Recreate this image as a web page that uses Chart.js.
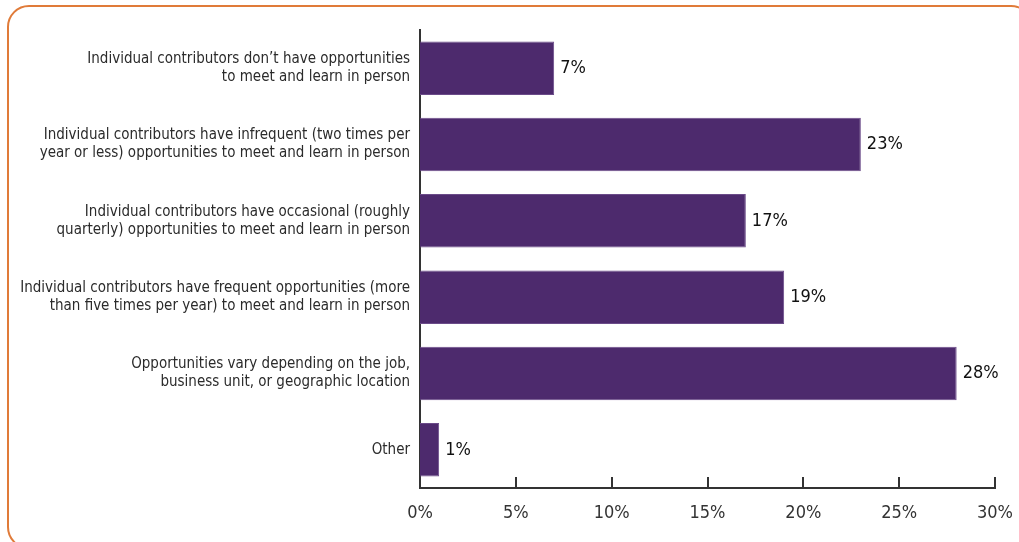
<!DOCTYPE html>
<html>
<head>
<meta charset="utf-8">
<script src="https://cdn.jsdelivr.net/npm/chart.js@4"></script>
<style>
  html, body { margin: 0; padding: 0; background: #fff; overflow: hidden; }
  #wrap { position: relative; width: 1019px; height: 542px; overflow: hidden; }
  #frame {
    position: absolute; left: 7px; top: 5px; width: 1026px; height: 544px;
    border: 2px solid #E07B39; border-radius: 22px; box-sizing: border-box;
  }
  canvas { position: absolute; left: 0; top: 0; }
</style>
</head>
<body>
<div id="wrap">
  <div id="frame"></div>
  <canvas id="grafico" width="1019" height="542"></canvas>
</div>
<script>
// Categorías (una línea por renglón de la etiqueta)
const categorias = [
    ["Individual contributors don\u2019t have opportunities", "to meet and learn in person"],
    ["Individual contributors have infrequent (two times per", "year or less) opportunities to meet and learn in person"],
    ["Individual contributors have occasional (roughly", "quarterly) opportunities to meet and learn in person"],
    ["Individual contributors have frequent opportunities (more", "than five times per year) to meet and learn in person"],
    ["Opportunities vary depending on the job,", "business unit, or geographic location"],
    ["Other"]
];
const porcentajes = [7, 23, 17, 19, 28, 1];
const ticksEjeX = [0, 5, 10, 15, 20, 25, 30];

const fuente = '"Liberation Sans Narrow", "DejaVu Sans Condensed", "Roboto", sans-serif';

// Marcas del eje X hacia dentro del área del gráfico
const marcasEje = {
    id: 'marcasEje',
    afterDraw(chart) {
        const x = chart.scales.x, area = chart.chartArea, ctx = chart.ctx;
        ctx.save();
        ctx.strokeStyle = '#333';
        ctx.lineWidth = 2;
        ticksEjeX.forEach(v => {
            if (v === 0) return;
            const px = Math.round(x.getPixelForValue(v));
            ctx.beginPath();
            ctx.moveTo(px, area.bottom);
            ctx.lineTo(px, area.bottom - 11);
            ctx.stroke();
        });
        ctx.restore();
    }
};

// Etiquetas con el valor al final de cada barra
const etiquetasValor = {
    id: 'etiquetasValor',
    afterDatasetsDraw(chart) {
        const ctx = chart.ctx;
        const meta = chart.getDatasetMeta(0);
        ctx.save();
        ctx.font = '18px ' + fuente;
        ctx.fillStyle = '#111';
        ctx.textAlign = 'left';
        ctx.textBaseline = 'middle';
        meta.data.forEach((bar, i) => {
            ctx.fillText(porcentajes[i] + '%', bar.x + 6, bar.y);
        });
        ctx.restore();
    }
};

new Chart(document.getElementById('grafico'), {
    type: 'bar',
    data: {
        labels: categorias,
        datasets: [{
            data: porcentajes,
            backgroundColor: '#4D2A6D',
            borderColor: '#6B4B89',
            borderWidth: 1,
            barPercentage: 0.7,
            categoryPercentage: 1
        }]
    },
    options: {
        indexAxis: 'y',
        responsive: false,
        animation: false,
        layout: { padding: { top: 30, right: 24, left: 0, bottom: 0 } },
        plugins: {
            legend: { display: false },
            tooltip: { enabled: false }
        },
        scales: {
            x: {
                min: 0,
                max: 30,
                afterBuildTicks: scale => { scale.ticks = ticksEjeX.map(v => ({ value: v })); },
                afterFit: scale => {
                    scale.height = 54;
                    scale.paddingLeft = 0;
                    scale.paddingRight = 0;
                },
                grid: { display: false, drawTicks: false },
                border: { display: true, color: '#333', width: 2 },
                ticks: {
                    padding: 15,
                    color: '#333',
                    font: { family: fuente, size: 18 },
                    callback: v => v + '%'
                }
            },
            y: {
                afterFit: scale => { scale.width = 420; },
                grid: { display: false, drawTicks: false },
                border: { display: true, color: '#333', width: 2 },
                ticks: {
                    padding: 10,
                    color: '#2b2b2b',
                    font: { family: fuente, size: 15, lineHeight: 1.2 }
                }
            }
        }
    },
    plugins: [marcasEje, etiquetasValor]
});
</script>
</body>
</html>
